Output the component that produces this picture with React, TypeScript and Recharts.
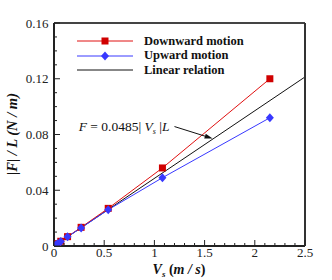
import React from 'react';
import { ComposedChart, Line, XAxis, YAxis, ReferenceLine } from 'recharts';

// slip speed (m/s) and force per length (N/m)
const speed = [0.017, 0.034, 0.0675, 0.135, 0.27, 0.54, 1.08, 2.15];
const downForce = [0.0009, 0.0017, 0.0034, 0.0067, 0.0134, 0.027, 0.056, 0.12];
const upForce = [0.0008, 0.0016, 0.0033, 0.0066, 0.013, 0.026, 0.049, 0.092];
const linearSpeed = [0, 2.5];
const linearForce = [0, 0.1213];

const xMajor = [0, 0.5, 1, 1.5, 2, 2.5];
const yMajor = [0, 0.04, 0.08, 0.12, 0.16];
const xTicks = Array.from({ length: 26 }, (_, i) => +(i * 0.1).toFixed(2));
const yTicks = Array.from({ length: 17 }, (_, i) => +(i * 0.01).toFixed(2));

const downData = speed.map((x, i) => ({ x, y: downForce[i] }));
const upData = speed.map((x, i) => ({ x, y: upForce[i] }));
const linData = linearSpeed.map((x, i) => ({ x, y: linearForce[i] }));

const FONT = '"Liberation Serif", "Times New Roman", serif';
const RED = '#e01010';
const BLUE = '#3838ff';
const AXIS = '#222';

const isMajor = (v: number, list: number[]) => list.some(m => Math.abs(m - v) < 1e-6);

const XTick = (props: any) => {
  const { x, y, payload } = props;
  const major = isMajor(payload.value, xMajor);
  return (
    <g>
      <line x1={x} y1={y} x2={x} y2={y - (major ? 6 : 3)} stroke={AXIS} strokeWidth={1} />
      {major && (
        <text x={x} y={y + 11} textAnchor="middle" fontSize={13} fontFamily={FONT} fill="#222">
          {String(payload.value)}
        </text>
      )}
    </g>
  );
};

const YTick = (props: any) => {
  const { x, y, payload } = props;
  const major = isMajor(payload.value, yMajor);
  return (
    <g>
      <line x1={x} y1={y} x2={x + (major ? 6 : 3)} y2={y} stroke={AXIS} strokeWidth={1} />
      {major && (
        <text x={x - 5.5} y={y + 4.5} textAnchor="end" fontSize={13} fontFamily={FONT} fill="#222">
          {String(payload.value)}
        </text>
      )}
    </g>
  );
};

const Square = (props: any) => {
  const { cx, cy, index } = props;
  return <rect key={`s-${index}`} x={cx - 3.5} y={cy - 3.5} width={7} height={7} fill="#d00000" />;
};

const Diamond = (props: any) => {
  const { cx, cy, index } = props;
  return (
    <polygon
      key={`d-${index}`}
      points={`${cx},${cy - 4.5} ${cx + 4},${cy} ${cx},${cy + 4.5} ${cx - 4},${cy}`}
      fill={BLUE}
    />
  );
};

const Arrow = (props: any) => {
  const { x1, y1, x2, y2 } = props;
  const a = Math.atan2(y2 - y1, x2 - x1);
  const L = 8;
  const W = 2.6;
  const bx = x2 - L * Math.cos(a);
  const by = y2 - L * Math.sin(a);
  const px = -Math.sin(a) * W;
  const py = Math.cos(a) * W;
  return (
    <g>
      <line x1={x1} y1={y1} x2={bx} y2={by} stroke="#111" strokeWidth={1} />
      <polygon points={`${x2},${y2} ${bx + px},${by + py} ${bx - px},${by - py}`} fill="#111" />
      <text x={x1 - 5} y={y1 + 4} textAnchor="end" fontSize={13.5} fontFamily={FONT} fill="#111">
        <tspan fontStyle="italic">F</tspan>
        <tspan> = 0.0485| </tspan>
        <tspan fontStyle="italic">V</tspan>
        <tspan fontStyle="italic" fontSize={8} dy={3}>s</tspan>
        <tspan dy={-3}> |</tspan>
        <tspan fontStyle="italic">L</tspan>
      </text>
    </g>
  );
};

const legendItems = [
  { name: 'Downward motion', color: RED, marker: 'square' },
  { name: 'Upward motion', color: BLUE, marker: 'diamond' },
  { name: 'Linear relation', color: '#111', marker: 'none' },
];

const LegendBox = () => (
  <div style={{ position: 'absolute', left: 76, top: 34, fontFamily: FONT, fontWeight: 'bold', fontSize: 12.5, color: '#111' }}>
    {legendItems.map(item => (
      <div key={item.name} style={{ display: 'flex', alignItems: 'center', height: 14.5 }}>
        <svg width={60} height={10} style={{ marginRight: 8 }}>
          <line x1={1} y1={5} x2={57} y2={5} stroke={item.color} strokeWidth={1} />
          {item.marker === 'square' && <rect x={25.5} y={1.5} width={7} height={7} fill="#d00000" />}
          {item.marker === 'diamond' && <polygon points="29,0.5 33,5 29,9.5 25,5" fill={BLUE} />}
        </svg>
        <span>{item.name}</span>
      </div>
    ))}
  </div>
);

export default function App() {
  return (
    <div style={{ position: 'absolute', left: 0, top: 0, width: 332, height: 280, background: '#fff' }}>
      <ComposedChart width={332} height={280} margin={{ top: 21, right: 25, bottom: 24, left: 44 }}>
        <XAxis
          dataKey="x"
          type="number"
          domain={[0, 2.5]}
          ticks={xTicks}
          interval={0}
          tickSize={0}
          tickMargin={0}
          tick={<XTick />}
          height={10}
          axisLine={{ stroke: AXIS, strokeWidth: 2 }}
          tickLine={false}
          allowDataOverflow
        />
        <XAxis xAxisId="top" orientation="top" type="number" domain={[0, 2.5]} height={2} tick={false} tickLine={false} axisLine={{ stroke: '#444', strokeWidth: 2 }} />
        <YAxis
          type="number"
          domain={[0, 0.16]}
          ticks={yTicks}
          interval={0}
          tickSize={0}
          tickMargin={0}
          tick={<YTick />}
          width={10}
          axisLine={{ stroke: AXIS, strokeWidth: 2 }}
          tickLine={false}
          allowDataOverflow
        />
        <YAxis yAxisId="right" orientation="right" type="number" domain={[0, 0.16]} width={2} tick={false} tickLine={false} axisLine={{ stroke: '#333', strokeWidth: 2 }} />
        <Line data={linData} dataKey="y" stroke="#111" strokeWidth={1} dot={false} isAnimationActive={false} />
        <Line data={downData} dataKey="y" stroke={RED} strokeWidth={1} dot={<Square />} isAnimationActive={false} />
        <Line data={upData} dataKey="y" stroke={BLUE} strokeWidth={1} dot={<Diamond />} isAnimationActive={false} />
        <ReferenceLine
          segment={[{ x: 1.2, y: 0.0857 }, { x: 1.58, y: 0.0771 }]}
          shape={<Arrow />}
          ifOverflow="visible"
        />
        <text x={17} y={134} transform="rotate(-90 17 134)" textAnchor="middle" fontSize={14.5} fontFamily={FONT} fontWeight="bold" fontStyle="italic" fill="#111">
          |F| / L  (N / m)
        </text>
        <text x={179} y={274} textAnchor="middle" fontSize={14} fontFamily={FONT} fontWeight="bold" fill="#111">
          <tspan fontStyle="italic">V</tspan>
          <tspan fontStyle="italic" fontSize={9} dy={3}>s</tspan>
          <tspan dy={-3}> (</tspan>
          <tspan fontStyle="italic">m / s</tspan>
          <tspan>)</tspan>
        </text>
      </ComposedChart>
      <LegendBox />
    </div>
  );
}
